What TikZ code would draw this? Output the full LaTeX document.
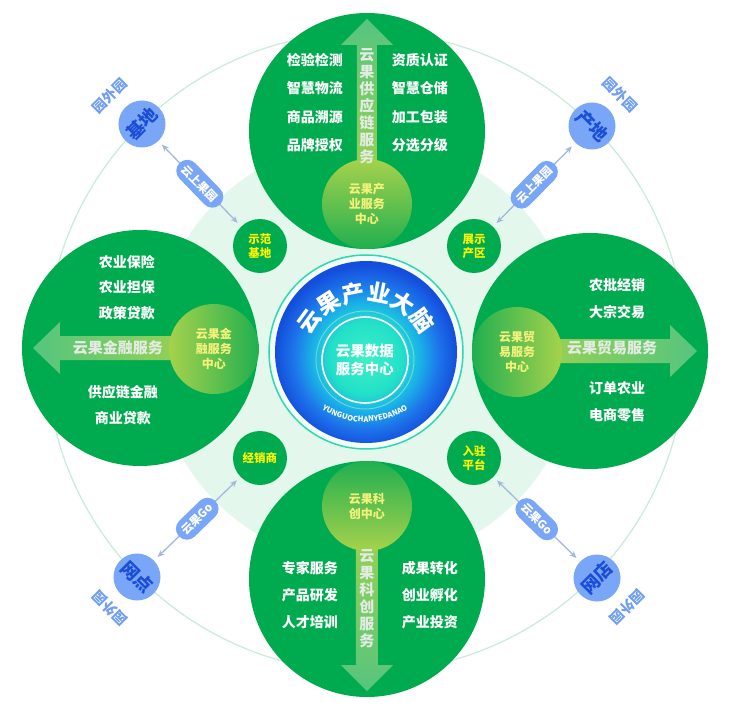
\documentclass[tikz,border=0pt]{standalone}
\usepackage{fontspec}
\setmainfont{Noto Sans CJK SC}
\usetikzlibrary{arrows.meta,decorations.text}

\definecolor{gr}{HTML}{00AB4F}
\definecolor{sgr}{HTML}{20AF50}
\definecolor{ygr}{HTML}{A6D24C}
\definecolor{lgr}{HTML}{55C57F}
\definecolor{agr}{HTML}{E3EBE3}
\definecolor{syel}{HTML}{F5F27C}
\definecolor{yel}{HTML}{FFF500}
\definecolor{mint}{HTML}{E4F7EC}
\definecolor{ring}{HTML}{C8EBDA}
\definecolor{cy}{HTML}{2CD9B3}
\definecolor{bl}{HTML}{79A6F6}
\definecolor{bltxt}{HTML}{6E9DF3}
\definecolor{dbl}{HTML}{1B4ED6}
\definecolor{lnk}{HTML}{A3B9DB}
\definecolor{brA}{HTML}{3EF0C6}
\definecolor{brB}{HTML}{22E0C8}
\definecolor{brC}{HTML}{1AB0E8}
\definecolor{brD}{HTML}{1D74EA}
\definecolor{brE}{HTML}{134EDC}

\pgfdeclareradialshading{brain}{\pgfpoint{0bp}{-2bp}}{color(0bp)=(brA); color(10bp)=(brB); color(15bp)=(brC); color(20bp)=(brD); color(25bp)=(brE); color(50bp)=(brE)}

\begin{document}
\begin{tikzpicture}[x=1pt,y=1pt]
  \tikzstyle{big}=[circle,fill=gr,minimum size=236pt,inner sep=0pt]
  \tikzstyle{sub}=[circle,minimum size=90pt,inner sep=0pt,text=syel,align=center,font=\bfseries\fontsize{12}{15}\selectfont]
  \tikzstyle{sml}=[circle,fill=gr,minimum size=54pt,inner sep=0pt,text=yel,align=center,font=\bfseries\fontsize{11.5}{14}\selectfont]
  \tikzstyle{itm}=[text=white,inner sep=0pt,font=\bfseries\fontsize{14}{14}\selectfont]
  \tikzstyle{arr}=[text=agr,inner sep=0pt,align=center,font=\bfseries\fontsize{15}{17}\selectfont]
  \tikzstyle{blu}=[circle,fill=bl,minimum size=47pt,inner sep=0pt,text=dbl,font=\bfseries\fontsize{18}{18}\selectfont]
  \tikzstyle{yw}=[text=bltxt,inner sep=0pt,font=\bfseries\fontsize{14}{14}\selectfont]
  \tikzstyle{pill}=[fill=bl,rounded corners=11pt,minimum height=22pt,inner xsep=6pt,inner ysep=0pt,text=white,font=\bfseries\fontsize{11.5}{11.5}\selectfont]
  \tikzstyle{lk}=[draw=lnk,line width=1.3pt,{Stealth[length=7pt,width=6pt]}-{Stealth[length=7pt,width=6pt]},shorten <=5pt,shorten >=5pt]

  \useasboundingbox (-366,-366) rectangle (376,352);
  \fill[white] (-366,-366) rectangle (376,352);

  % rings behind
  \draw[ring,line width=1.2pt] (0,0) circle (320pt);
  \fill[mint] (0,0) circle (212pt);

  % four service circles
  \node[big] (top) at (1,221) {};
  \node[big] (lft) at (-226,4) {};
  \node[big] (rgt) at (224,1) {};
  \node[big] (bot) at (1,-227) {};

  \shade[shift={(top)},top color=lgr,bottom color=ygr] (-10,-73) -- (-10,86) -- (-26,86) -- (0,112) -- (26,86) -- (10,86) -- (10,-73) -- cycle;
  \shade[shift={(bot)},top color=ygr,bottom color=lgr] (-11,73) -- (-11,-86) -- (-26,-86) -- (0,-112) -- (26,-86) -- (11,-86) -- (11,73) -- cycle;
  \shade[shift={(lft)},left color=lgr,right color=ygr] (73,-12) -- (-80,-12) -- (-80,-26) -- (-107,0) -- (-80,26) -- (-80,12) -- (73,12) -- cycle;
  \shade[shift={(rgt)},left color=ygr,right color=lgr] (-73,-12) -- (80,-12) -- (80,-26) -- (107,0) -- (80,26) -- (80,12) -- (-73,12) -- cycle;

  \node[sub,top color=ygr,bottom color=sgr] (topc) at (1,148) {云果产\\业服务\\中心};
  \node[sub,left color=ygr,right color=sgr] (lftc) at (-152,3) {云果金\\融服务\\中心};
  \node[sub,left color=sgr,right color=ygr] (rgtc) at (151,0) {云果贸\\易服务\\中心};
  \node[sub,top color=sgr,bottom color=ygr] (botc) at (1,-154) {云果科\\创中心};

  \node[arr] (topa) at (1,246) {云\\果\\供\\应\\链\\服\\务};
  \node[arr] (bota) at (1,-247) {云\\果\\科\\创\\服\\务};
  \node[arr] (lfta) at (-248,4) {云果金融服务};
  \node[arr] (rgta) at (246,4) {云果贸易服务};

  \foreach \t [count=\i] in {检验检测,智慧物流,商品溯源,品牌授权}
    \node[itm] (tl\i) at (-51,{292-28.4*(\i-1)}) {\t};
  \foreach \t [count=\i] in {资质认证,智慧仓储,加工包装,分选分级}
    \node[itm] (tr\i) at (54,{292-28.4*(\i-1)}) {\t};
  \foreach \t [count=\i] in {农业保险,农业担保,政策贷款}
    \node[itm] (la\i) at (-239,{90-25.5*(\i-1)}) {\t};
  \foreach \t [count=\i] in {供应链金融,商业贷款}
    \node[itm] (lb\i) at (-243,{-40-26*(\i-1)}) {\t};
  \foreach \t [count=\i] in {农批经销,大宗交易}
    \node[itm] (ra\i) at (251,{67-27*(\i-1)}) {\t};
  \foreach \t [count=\i] in {订单农业,电商零售}
    \node[itm] (rb\i) at (251,{-36-27*(\i-1)}) {\t};
  \foreach \t [count=\i] in {专家服务,产品研发,人才培训}
    \node[itm] (bl\i) at (-56,{-216-27*(\i-1)}) {\t};
  \foreach \t [count=\i] in {成果转化,创业孵化,产业投资}
    \node[itm] (br\i) at (64,{-216-27*(\i-1)}) {\t};

  % small circles
  \node[sml] (sf) at (-106,106) {示范\\基地};
  \node[sml] (zs) at (108,106) {展示\\产区};
  \node[sml] (jx) at (-106,-106) {经销商};
  \node[sml] (rz) at (108,-106) {入驻\\平台};

  % brain
  \node[circle,draw=cy,line width=1.5pt,fill=white!60!mint,minimum size=194pt] (core) at (0,0) {};
  \node[circle,shade,shading=brain,minimum size=182pt] (brain) at (0,0) {};
  \node[circle,draw=white,opacity=0.35,line width=1pt,minimum size=98pt] (glow) at (-1,-8) {};
  \node[circle,draw=white,line width=1.6pt,minimum size=86pt,text=white,align=center,font=\bfseries\fontsize{14.5}{18}\selectfont] (data) at (-1,-8) {云果数据\\服务中心};
  \path[decorate,decoration={text along path,text align=center,text={|\bfseries\fontsize{23}{23}\selectfont\color{white}|云果产业大脑}}] (-61,-10) arc[start angle=180,end angle=0,radius=61pt];
  \path[decorate,decoration={text along path,text align=center,text={|\bfseries\fontsize{7.5}{7.5}\selectfont\color{white}|YUNGUOCHANYEDANAO}}] (-52.4,-51.3) arc[start angle=230,end angle=310,radius=80pt];

  % outer places
  \node[blu,rotate=45] (jd) at (-224,228) {基地};
  \node[blu,rotate=-45] (cd) at (226,226) {产地};
  \node[blu,rotate=-45] (wd) at (-229,-225) {网点};
  \node[blu,rotate=45] (ws) at (231,-226) {网店};
  \node[yw,rotate=45] (y1) at (-256,256) {园外园};
  \node[yw,rotate=-45] (y2) at (254,257) {园外园};
  \node[yw,rotate=135] (y3) at (-256,-256) {园外园};
  \node[yw,rotate=-135] (y4) at (261,-255) {园外园};

  \draw[lk] (jd) -- node[pill,sloped] (p1) {云上果园} (sf);
  \draw[lk] (cd) -- node[pill,sloped] (p2) {云上果园} (zs);
  \draw[lk] (wd) -- node[pill,sloped] (p3) {云果Go} (jx);
  \draw[lk] (ws) -- node[pill,sloped] (p4) {云果Go} (rz);
\end{tikzpicture}
\end{document}
